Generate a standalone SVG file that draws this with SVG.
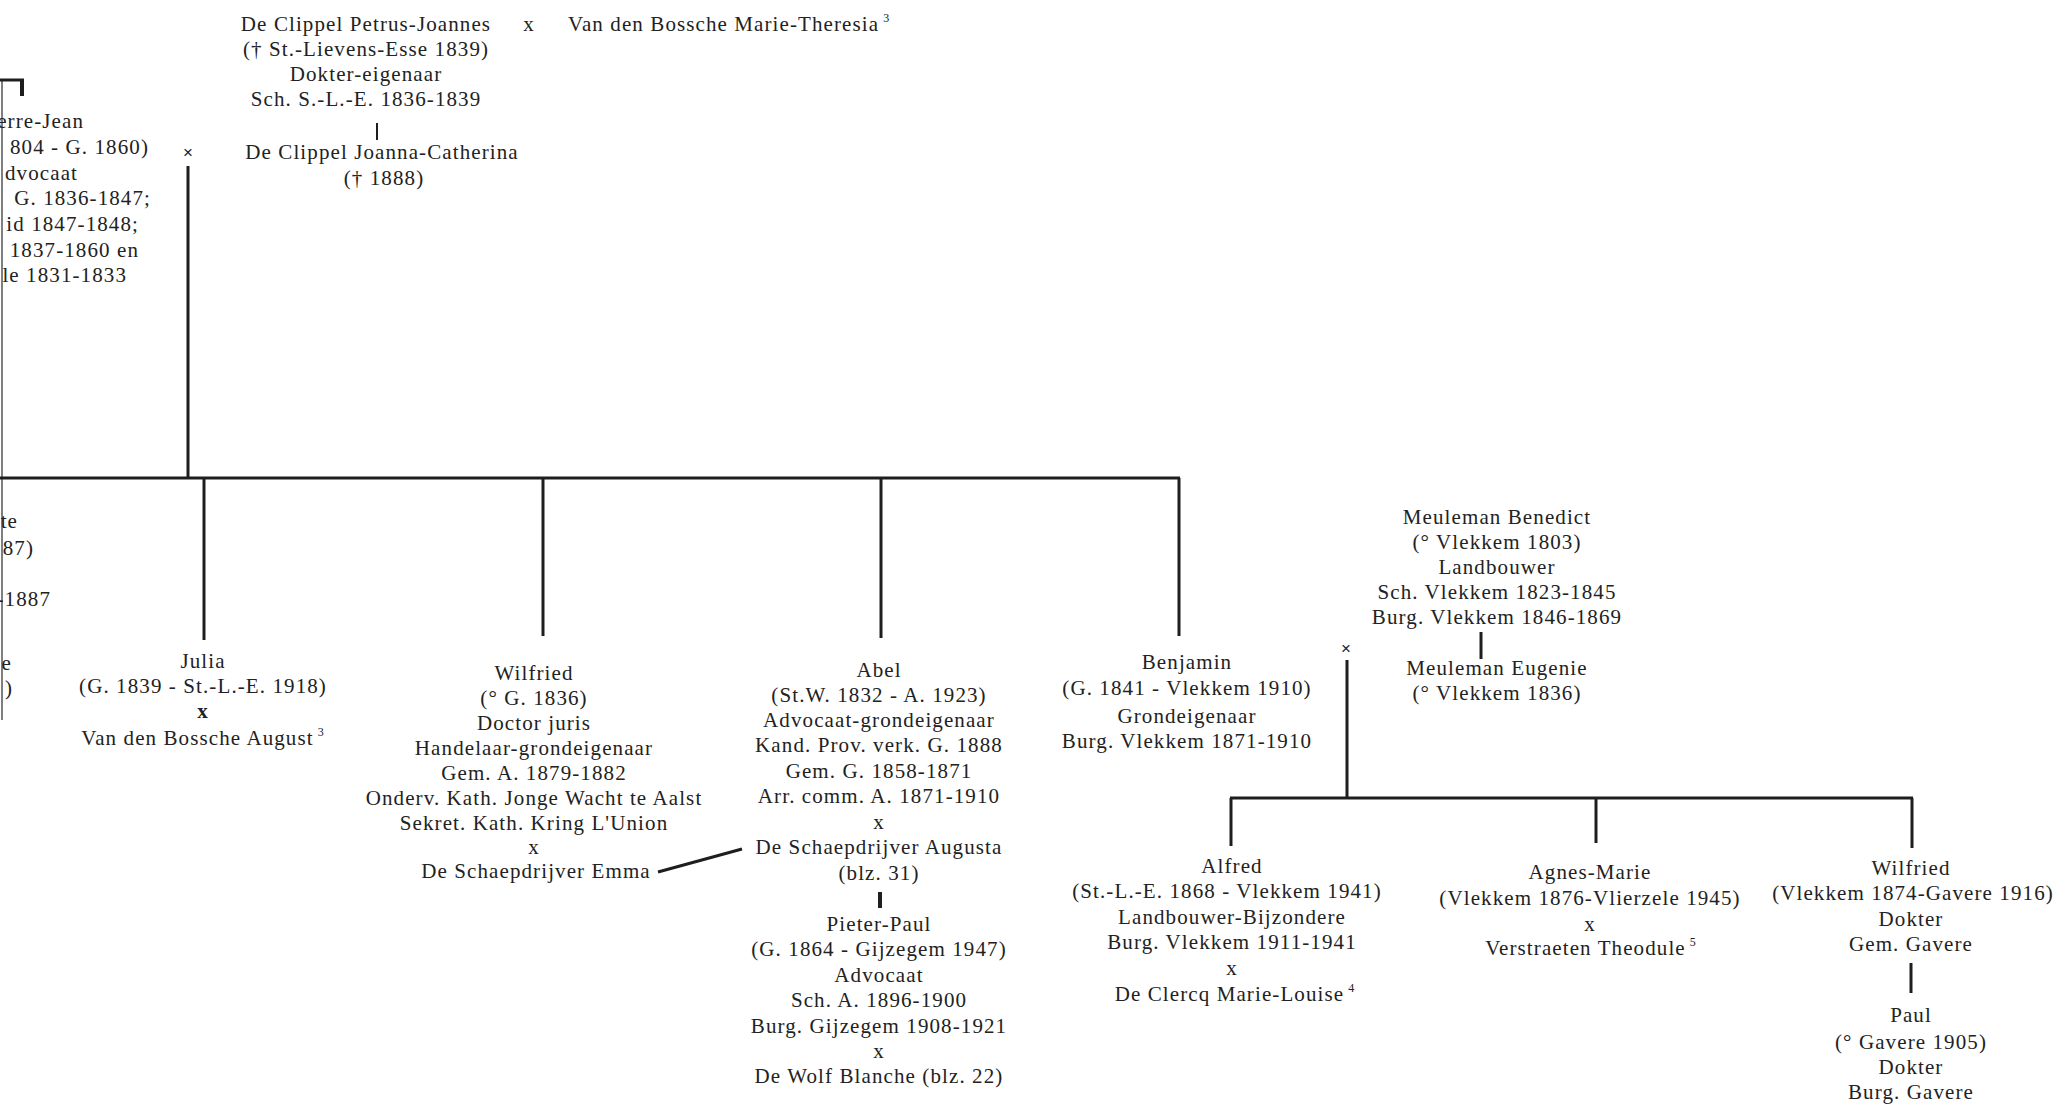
<svg xmlns="http://www.w3.org/2000/svg" width="2062" height="1106" viewBox="0 0 2062 1106">
<style>
.t{font-family:"Liberation Serif","Times New Roman",serif;font-size:21px;fill:#222222;letter-spacing:1.1px;text-anchor:middle}
.s{text-anchor:start}
.e{text-anchor:end}
.sup{font-size:12px}
.m{font-family:"Liberation Sans",Arial,sans-serif;font-size:17px;fill:#222222;text-anchor:middle}
.l{stroke:#1e1e1e;stroke-width:3;fill:none;stroke-linecap:butt}
.thin{stroke:#555;stroke-width:1.5;fill:none}
</style>
<rect width="2062" height="1106" fill="#ffffff"/>

<g id="connectors">
  <path class="thin" d="M2,80 V720"/>
  <path class="l" d="M0,80 H24"/>
  <path class="l" style="stroke-width:4" d="M22,80 V96"/>
  <path class="l" style="stroke-width:2" d="M377,123 V140"/>
  <path class="l" d="M188,166 V478"/>
  <path class="l" d="M0,478 H1180"/>
  <path class="l" d="M204,478 V640"/>
  <path class="l" d="M543,478 V636"/>
  <path class="l" d="M881,478 V638"/>
  <path class="l" d="M1179,478 V636"/>
  <path class="l" d="M658,872 L742,849"/>
  <path class="l" style="stroke-width:4" d="M880,892 V908"/>
  <path class="l" d="M1481,632 V659"/>
  <path class="l" d="M1347,660 V798"/>
  <path class="l" d="M1230,798 H1913"/>
  <path class="l" d="M1231,798 V846"/>
  <path class="l" d="M1596,798 V843"/>
  <path class="l" d="M1912,798 V848"/>
  <path class="l" d="M1911,963 V993"/>
</g>

<g id="node-petrus-joannes">
  <text class="t" x="366" y="31">De Clippel Petrus-Joannes</text>
  <text class="t" x="366" y="56">(† St.-Lievens-Esse 1839)</text>
  <text class="t" x="366" y="81">Dokter-eigenaar</text>
  <text class="t" x="366" y="106">Sch. S.-L.-E. 1836-1839</text>
</g>
<g id="marriage-top">
  <text class="t" x="529" y="31">x</text>
</g>
<g id="node-marie-theresia">
  <text class="t s" x="568" y="31">Van den Bossche Marie-Theresia<tspan class="sup" dx="4" dy="-9">3</tspan></text>
</g>
<g id="node-joanna-catherina">
  <text class="t" x="382" y="159">De Clippel Joanna-Catherina</text>
  <text class="t" x="384" y="185">(† 1888)</text>
</g>

<g id="node-pierre-jean">
  <text class="t e" x="84" y="128">erre-Jean</text>
  <text class="t e" x="149" y="154">804 - G. 1860)</text>
  <text class="t e" x="78" y="180">dvocaat</text>
  <text class="t e" x="151" y="205">G. 1836-1847;</text>
  <text class="t e" x="139" y="231">id 1847-1848;</text>
  <text class="t e" x="139" y="257">1837-1860 en</text>
  <text class="t e" x="127" y="282">le 1831-1833</text>
</g>
<g id="marriage-left">
  <text class="m" x="188" y="158">×</text>
</g>

<g id="node-left-child">
  <text class="t e" x="18" y="528">te</text>
  <text class="t e" x="34" y="555">87)</text>
  <text class="t e" x="51" y="606">-1887</text>
  <text class="t e" x="12" y="670">e</text>
  <text class="t e" x="13" y="695">)</text>
</g>

<g id="node-julia">
  <text class="t" x="203" y="668">Julia</text>
  <text class="t" x="203" y="693">(G. 1839 - St.-L.-E. 1918)</text>
  <text class="t" x="203" y="718" font-weight="bold">x</text>
  <text class="t" x="203" y="745">Van den Bossche August<tspan class="sup" dx="4" dy="-9">3</tspan></text>
</g>

<g id="node-wilfried">
  <text class="t" x="534" y="680">Wilfried</text>
  <text class="t" x="534" y="705">(° G. 1836)</text>
  <text class="t" x="534" y="730">Doctor juris</text>
  <text class="t" x="534" y="755">Handelaar-grondeigenaar</text>
  <text class="t" x="534" y="780">Gem. A. 1879-1882</text>
  <text class="t" x="534" y="805">Onderv. Kath. Jonge Wacht te Aalst</text>
  <text class="t" x="534" y="830">Sekret. Kath. Kring L'Union</text>
  <text class="t" x="534" y="854">x</text>
  <text class="t" x="536" y="878">De Schaepdrijver Emma</text>
</g>

<g id="node-abel">
  <text class="t" x="879" y="677">Abel</text>
  <text class="t" x="879" y="702">(St.W. 1832 - A. 1923)</text>
  <text class="t" x="879" y="727">Advocaat-grondeigenaar</text>
  <text class="t" x="879" y="752">Kand. Prov. verk. G. 1888</text>
  <text class="t" x="879" y="778">Gem. G. 1858-1871</text>
  <text class="t" x="879" y="803">Arr. comm. A. 1871-1910</text>
  <text class="t" x="879" y="829">x</text>
  <text class="t" x="879" y="854">De Schaepdrijver Augusta</text>
  <text class="t" x="879" y="880">(blz. 31)</text>
</g>

<g id="node-pieter-paul">
  <text class="t" x="879" y="931">Pieter-Paul</text>
  <text class="t" x="879" y="956">(G. 1864 - Gijzegem 1947)</text>
  <text class="t" x="879" y="982">Advocaat</text>
  <text class="t" x="879" y="1007">Sch. A. 1896-1900</text>
  <text class="t" x="879" y="1033">Burg. Gijzegem 1908-1921</text>
  <text class="t" x="879" y="1058">x</text>
  <text class="t" x="879" y="1083">De Wolf Blanche (blz. 22)</text>
</g>

<g id="node-benjamin">
  <text class="t" x="1187" y="669">Benjamin</text>
  <text class="t" x="1187" y="695">(G. 1841 - Vlekkem 1910)</text>
  <text class="t" x="1187" y="723">Grondeigenaar</text>
  <text class="t" x="1187" y="748">Burg. Vlekkem 1871-1910</text>
</g>
<g id="marriage-right">
  <text class="m" x="1346" y="654">×</text>
</g>

<g id="node-meuleman-benedict">
  <text class="t" x="1497" y="524">Meuleman Benedict</text>
  <text class="t" x="1497" y="549">(° Vlekkem 1803)</text>
  <text class="t" x="1497" y="574">Landbouwer</text>
  <text class="t" x="1497" y="599">Sch. Vlekkem 1823-1845</text>
  <text class="t" x="1497" y="624">Burg. Vlekkem 1846-1869</text>
</g>
<g id="node-meuleman-eugenie">
  <text class="t" x="1497" y="675">Meuleman Eugenie</text>
  <text class="t" x="1497" y="700">(° Vlekkem 1836)</text>
</g>

<g id="node-alfred">
  <text class="t" x="1232" y="873">Alfred</text>
  <text class="t" x="1227" y="898">(St.-L.-E. 1868 - Vlekkem 1941)</text>
  <text class="t" x="1232" y="924">Landbouwer-Bijzondere</text>
  <text class="t" x="1232" y="949">Burg. Vlekkem 1911-1941</text>
  <text class="t" x="1232" y="975">x</text>
  <text class="t" x="1235" y="1001">De Clercq Marie-Louise<tspan class="sup" dx="4" dy="-9">4</tspan></text>
</g>

<g id="node-agnes-marie">
  <text class="t" x="1590" y="879">Agnes-Marie</text>
  <text class="t" x="1590" y="905">(Vlekkem 1876-Vlierzele 1945)</text>
  <text class="t" x="1590" y="931">x</text>
  <text class="t" x="1591" y="955">Verstraeten Theodule<tspan class="sup" dx="4" dy="-9">5</tspan></text>
</g>

<g id="node-wilfried-r">
  <text class="t" x="1911" y="875">Wilfried</text>
  <text class="t" x="1913" y="900">(Vlekkem 1874-Gavere 1916)</text>
  <text class="t" x="1911" y="926">Dokter</text>
  <text class="t" x="1911" y="951">Gem. Gavere</text>
</g>

<g id="node-paul">
  <text class="t" x="1911" y="1022">Paul</text>
  <text class="t" x="1911" y="1049">(° Gavere 1905)</text>
  <text class="t" x="1911" y="1074">Dokter</text>
  <text class="t" x="1911" y="1099">Burg. Gavere</text>
</g>
</svg>
